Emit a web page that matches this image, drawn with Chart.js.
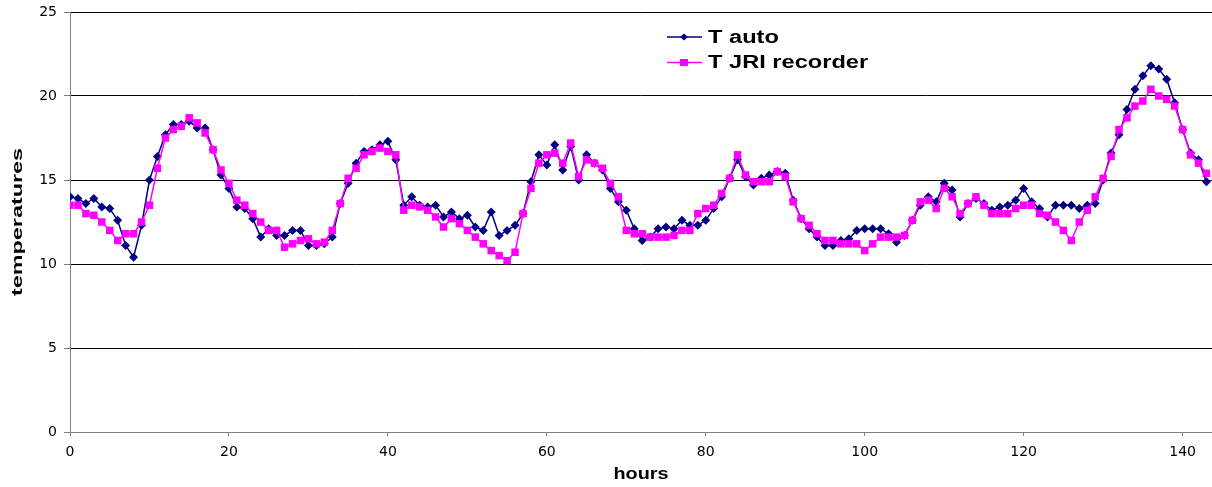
<!DOCTYPE html>
<html>
<head>
<meta charset="utf-8">
<script src="https://cdn.jsdelivr.net/npm/chart.js@4.4.0/dist/chart.umd.min.js"></script>
<style>
  html, body { margin: 0; padding: 0; background: #fff; }
  #wrap { width: 1212px; height: 487px; }
</style>
</head>
<body>
<div id="wrap"><canvas id="tempChart"></canvas></div>
<script>
// hourly readings, hour 0 .. 143
var tAuto = [
    14.0, 13.9, 13.6, 13.9, 13.4, 13.3, 12.6, 11.1, 10.4, 12.3, 15.0, 16.4,
    17.7, 18.3, 18.3, 18.5, 18.1, 18.1, 16.8, 15.3, 14.5, 13.4, 13.3, 12.7,
    11.6, 12.1, 11.7, 11.7, 12.0, 12.0, 11.1, 11.1, 11.2, 11.6, 13.6, 14.8,
    16.0, 16.7, 16.8, 17.1, 17.3, 16.2, 13.5, 14.0, 13.5, 13.4, 13.5, 12.8,
    13.1, 12.7, 12.9, 12.2, 12.0, 13.1, 11.7, 12.0, 12.3, 13.0, 14.9, 16.5,
    15.9, 17.1, 15.6, 17.0, 15.0, 16.5, 16.0, 15.6, 14.5, 13.7, 13.2, 12.1,
    11.4, 11.6, 12.1, 12.2, 12.1, 12.6, 12.3, 12.3, 12.6, 13.3, 14.0, 15.1,
    16.2, 15.2, 14.7, 15.1, 15.3, 15.5, 15.4, 13.8, 12.7, 12.1, 11.6, 11.1,
    11.1, 11.4, 11.5, 12.0, 12.1, 12.1, 12.1, 11.8, 11.3, 11.7, 12.6, 13.5,
    14.0, 13.7, 14.8, 14.4, 12.8, 13.6, 13.9, 13.6, 13.2, 13.4, 13.5, 13.8,
    14.5, 13.7, 13.3, 12.8, 13.5, 13.5, 13.5, 13.3, 13.5, 13.6, 15.0, 16.6,
    17.7, 19.2, 20.4, 21.2, 21.8, 21.6, 21.0, 19.6, 18.0, 16.6, 16.2, 14.9
];

var tJri = [
    13.5, 13.5, 13.0, 12.9, 12.5, 12.0, 11.4, 11.8, 11.8, 12.5, 13.5, 15.7,
    17.5, 18.0, 18.2, 18.7, 18.4, 17.8, 16.8, 15.6, 14.8, 13.8, 13.5, 13.0,
    12.5, 12.0, 12.0, 11.0, 11.2, 11.4, 11.5, 11.2, 11.3, 12.0, 13.6, 15.1,
    15.7, 16.5, 16.7, 16.9, 16.7, 16.5, 13.2, 13.5, 13.4, 13.2, 12.8, 12.2,
    12.7, 12.4, 12.0, 11.6, 11.2, 10.8, 10.5, 10.2, 10.7, 13.0, 14.5, 16.0,
    16.5, 16.6, 16.0, 17.2, 15.2, 16.2, 16.0, 15.7, 14.8, 14.0, 12.0, 11.8,
    11.8, 11.6, 11.6, 11.6, 11.7, 12.0, 12.0, 13.0, 13.3, 13.5, 14.2, 15.1,
    16.5, 15.3, 14.9, 14.9, 14.9, 15.5, 15.2, 13.7, 12.7, 12.3, 11.8, 11.4,
    11.4, 11.2, 11.2, 11.2, 10.8, 11.2, 11.6, 11.6, 11.6, 11.7, 12.6, 13.7,
    13.8, 13.3, 14.5, 14.0, 13.0, 13.6, 14.0, 13.5, 13.0, 13.0, 13.0, 13.3,
    13.5, 13.5, 13.0, 12.9, 12.5, 12.0, 11.4, 12.5, 13.2, 14.0, 15.1, 16.4,
    18.0, 18.7, 19.4, 19.7, 20.4, 20.0, 19.8, 19.4, 18.0, 16.5, 16.0, 15.4
];

var hours = tAuto.map(function (v, i) { return i; });
var xTicks = [0, 20, 40, 60, 80, 100, 120, 140];
var yTicks = [0, 5, 10, 15, 20, 25];

var navy = '#000080';
var magenta = '#ff00ff';
var tickFont = { family: 'DejaVu Sans', size: 14 };

function points(values) {
    return hours.map(function (h, i) { return { x: h, y: values[i] }; });
}

// text in the original is drawn wide, so stretch it along its baseline
function wideText(ctx, text, x, y, sx, rot) {
    ctx.save();
    ctx.translate(x, y);
    if (rot) ctx.rotate(rot);
    ctx.scale(sx, 1);
    ctx.fillText(text, 0, 0);
    ctx.restore();
}

var labelsPlugin = {
    id: 'labels',
    afterDraw: function (chart) {
        var ctx = chart.ctx;
        var area = chart.chartArea;
        ctx.save();
        ctx.fillStyle = '#000';

        // axis titles
        ctx.textAlign = 'center';
        ctx.textBaseline = 'alphabetic';
        ctx.font = 'bold 16px "Liberation Sans", Arial, sans-serif';
        wideText(ctx, 'hours', (area.left + area.right) / 2, 479, 1.24, 0);
        ctx.textBaseline = 'middle';
        ctx.font = 'bold 14px "Liberation Sans", Arial, sans-serif';
        wideText(ctx, 'temperatures', 18, (area.top + area.bottom) / 2, 1.67, -Math.PI / 2);

        // legend
        var rows = [
            { y: 37, color: navy, marker: 'diamond', text: chart.data.datasets[0].label },
            { y: 62.5, color: magenta, marker: 'square', text: chart.data.datasets[1].label }
        ];
        rows.forEach(function (r) {
            ctx.strokeStyle = r.color;
            ctx.lineWidth = 1.5;
            ctx.beginPath();
            ctx.moveTo(667, r.y);
            ctx.lineTo(702, r.y);
            ctx.stroke();
            ctx.fillStyle = r.color;
            ctx.beginPath();
            if (r.marker === 'diamond') {
                ctx.moveTo(684, r.y - 3.5);
                ctx.lineTo(688, r.y);
                ctx.lineTo(684, r.y + 3.5);
                ctx.lineTo(680, r.y);
                ctx.closePath();
            } else {
                ctx.rect(680, r.y - 3.5, 8, 7);
            }
            ctx.fill();
            ctx.fillStyle = '#000';
            ctx.textAlign = 'left';
            ctx.textBaseline = 'middle';
            ctx.font = 'bold 17.5px "Liberation Sans", Arial, sans-serif';
            wideText(ctx, r.text, 708, r.y + 1, 1.35, 0);
        });
        ctx.restore();
    }
};

new Chart(document.getElementById('tempChart'), {
    type: 'line',
    data: {
        datasets: [{
            label: 'T auto',
            data: points(tAuto),
            borderColor: navy,
            backgroundColor: navy,
            borderWidth: 1.5,
            pointStyle: 'rectRot',
            pointRadius: 4.5,
            pointBorderWidth: 0,
            pointBackgroundColor: navy,
            tension: 0,
            order: 1
        }, {
            label: 'T JRI recorder',
            data: points(tJri),
            borderColor: magenta,
            backgroundColor: magenta,
            borderWidth: 1.5,
            pointStyle: 'rect',
            pointRadius: 5.3,
            pointBorderWidth: 0,
            pointBackgroundColor: magenta,
            tension: 0,
            order: 0
        }]
    },
    options: {
        responsive: true,
        maintainAspectRatio: false,
        animation: false,
        layout: { autoPadding: false, padding: { top: 12, right: 0, left: 0, bottom: 0 } },
        plugins: {
            legend: { display: false },
            tooltip: { enabled: false }
        },
        scales: {
            x: {
                type: 'linear',
                min: 0,
                max: 143.7,
                afterBuildTicks: function (s) { s.ticks = xTicks.map(function (v) { return { value: v }; }); },
                afterFit: function (s) {
                    s.height = 55;
                    s.paddingLeft = 0;
                    s.paddingRight = 0;
                },
                grid: { drawOnChartArea: false, tickLength: 4, tickColor: '#808080' },
                border: { color: '#808080', width: 1 },
                ticks: { padding: 8, color: '#000', font: tickFont, maxRotation: 0, autoSkip: false }
            },
            y: {
                min: 0,
                max: 25,
                afterBuildTicks: function (s) { s.ticks = yTicks.map(function (v) { return { value: v }; }); },
                afterFit: function (s) {
                    s.width = 70;
                    s.paddingTop = 0;
                    s.paddingBottom = 0;
                },
                grid: {
                    color: function (c) { return c.tick && c.tick.value === 0 ? '#808080' : '#000'; },
                    tickLength: 6,
                    tickColor: '#808080'
                },
                border: { color: '#808080', width: 1 },
                ticks: { padding: 7, color: '#000', font: tickFont }
            }
        }
    },
    plugins: [labelsPlugin]
});
</script>
</body>
</html>
